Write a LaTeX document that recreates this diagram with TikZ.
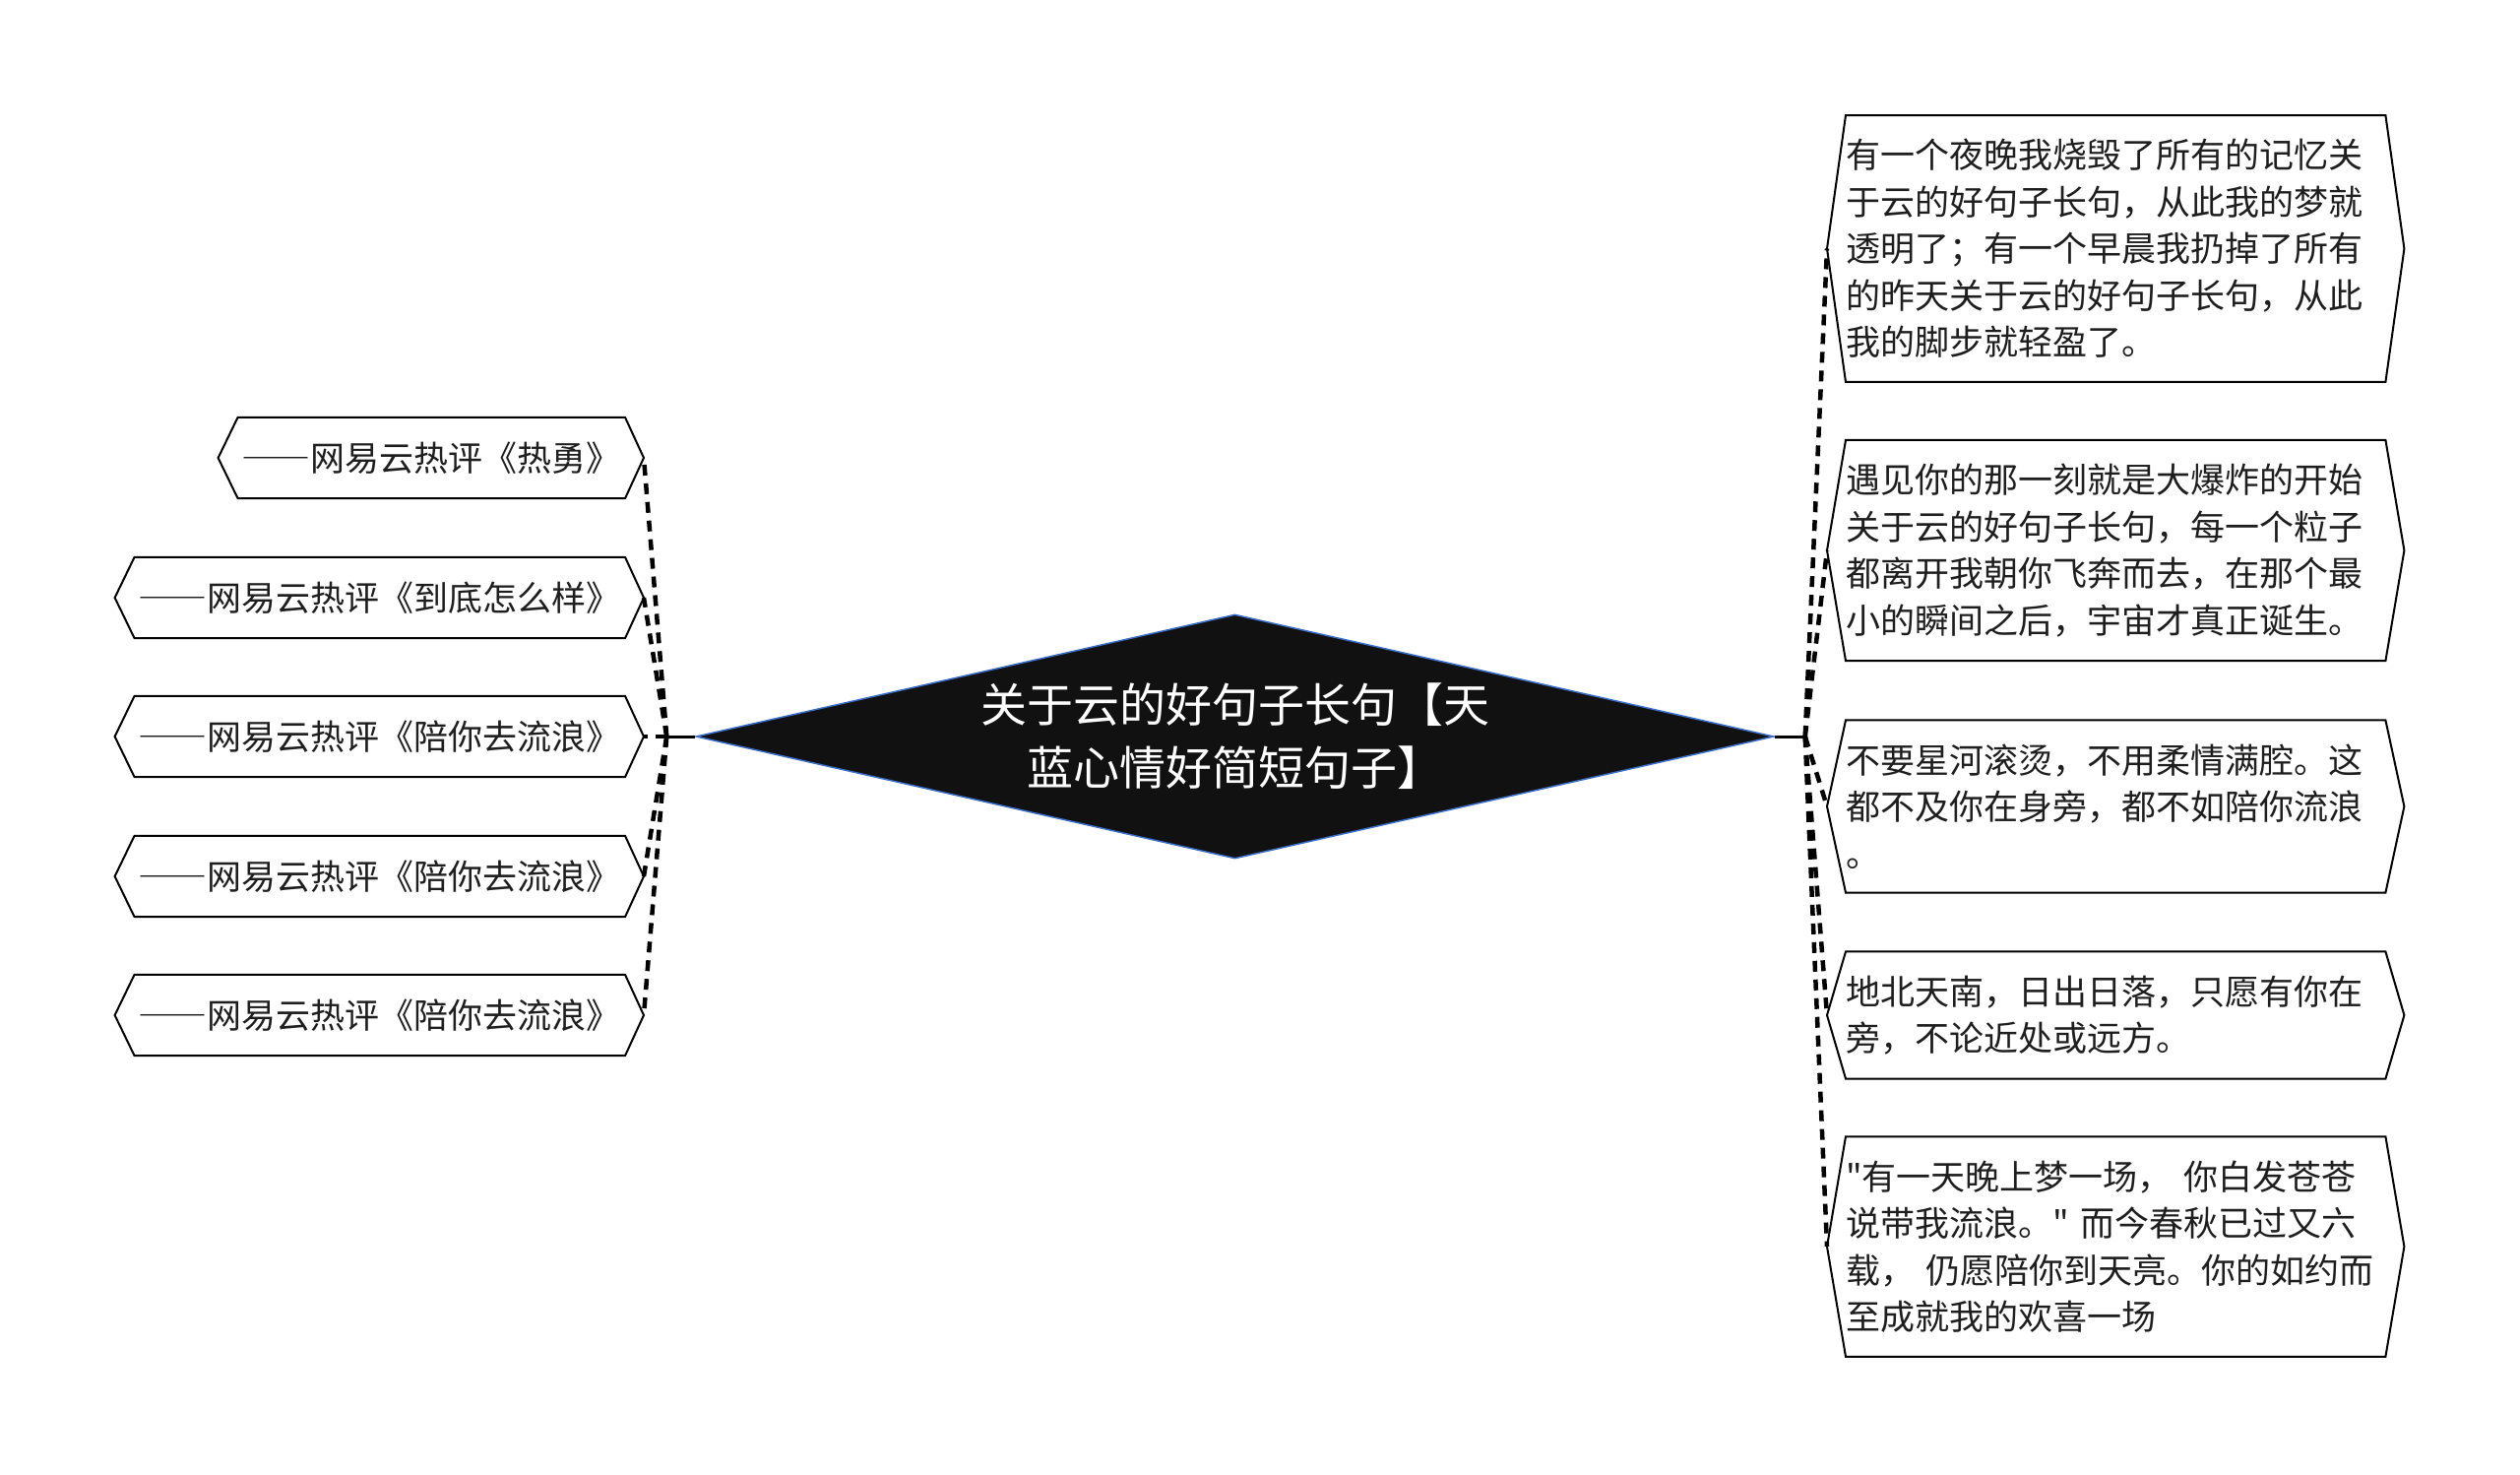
\documentclass[tikz,border=0pt]{standalone}
\usepackage{fontspec}
\setmainfont{Noto Sans CJK SC}[Ligatures=TeXOff]
\usetikzlibrary{shapes.geometric,calc}
\definecolor{txtc}{RGB}{30,30,30}
\definecolor{rootfill}{RGB}{17,17,17}
\definecolor{rootline}{RGB}{60,110,200}
\newcommand{\fwdash}{{\addfontfeature{RawFeature=+fwid}——}}
\begin{document}
\begin{tikzpicture}[x=1pt,y=-1pt,
  rootstyle/.style={shape=diamond, fill=rootfill, draw=rootline, line width=1.5pt,
    minimum width=1095pt, minimum height=248pt, inner sep=0pt, aspect=4.4,
    text=white, font=\fontsize{47}{64}\selectfont, align=center},
  leafstyle/.style={inner xsep=4pt, inner ysep=0pt, minimum height=82pt, text=txtc,
    font=\fontsize{35}{47.5}\selectfont},
  parastyle/.style={text width=548pt, align=left, inner xsep=0pt, inner ysep=24pt,
    text=txtc, font=\fontsize{35}{47.5}\selectfont},
  hexbox/.style={draw=black, line width=2pt, line join=miter},
  connstyle/.style={draw=black, line width=4.5pt, dash pattern=on 11pt off 8pt},
  trunkstyle/.style={draw=black, line width=3pt}]
\useasboundingbox (0,0) rectangle (2560,1497);

% root
\node[rootstyle] (root) at (1254.5,748) {关于云的好句子长句【天\\蓝心情好简短句子】};
\coordinate (jl) at ($(root.west)+(-29,0)$);
\coordinate (jr) at ($(root.east)+(31,0)$);

% left leaves
\node[leafstyle, anchor=east] (l1) at (635,465) {\fwdash 网易云热评《热勇》};
\node[leafstyle, anchor=east] (l2) at (635,607) {\fwdash 网易云热评《到底怎么样》};
\node[leafstyle, anchor=east] (l3) at (635,748) {\fwdash 网易云热评《陪你去流浪》};
\node[leafstyle, anchor=east] (l4) at (635,890) {\fwdash 网易云热评《陪你去流浪》};
\node[leafstyle, anchor=east] (l5) at (635,1031) {\fwdash 网易云热评《陪你去流浪》};
\foreach \n in {l1,l2,l3,l4,l5}{
  \draw[hexbox] (\n.north west) -- (\n.north east) -- ($(\n.east)+(19,0)$) -- (\n.south east)
    -- (\n.south west) -- ($(\n.west)+(-20,0)$) -- cycle;
  \coordinate (\n t) at ($(\n.east)+(19,0)$);
}

% right paragraphs
\node[parastyle, anchor=west] (r1) at (1875,252.5) {有一个夜晚我烧毁了所有的记忆关\\于云的好句子长句，从此我的梦就\\透明了；有一个早晨我扔掉了所有\\的昨天关于云的好句子长句，从此\\我的脚步就轻盈了。};
\node[parastyle, anchor=west] (r2) at (1875,559) {遇见你的那一刻就是大爆炸的开始\\关于云的好句子长句，每一个粒子\\都离开我朝你飞奔而去，在那个最\\小的瞬间之后，宇宙才真正诞生。};
\node[parastyle, anchor=west] (r3) at (1875,819) {不要星河滚烫，不用柔情满腔。这\\都不及你在身旁，都不如陪你流浪\\。};
\node[parastyle, anchor=west] (r4) at (1875,1031) {地北天南，日出日落，只愿有你在\\旁，不论近处或远方。};
\node[parastyle, anchor=west] (r5) at (1875,1266) {"有一天晚上梦一场， 你白发苍苍\\说带我流浪。" 而今春秋已过又六\\载， 仍愿陪你到天亮。你的如约而\\至成就我的欢喜一场};
\foreach \n in {r1,r2,r3,r4,r5}{
  \draw[hexbox] (\n.north west) -- (\n.north east) -- ($(\n.east)+(19,0)$) -- (\n.south east)
    -- (\n.south west) -- ($(\n.west)+(-19,0)$) -- cycle;
  \coordinate (\n t) at ($(\n.west)+(-19,0)$);
}

% connectors
\draw[trunkstyle] (root.west) -- (jl);
\draw[trunkstyle] (root.east) -- (jr);
\foreach \n in {l1,l2,l3,l4,l5}{ \draw[connstyle] (jl) -- (\n t); }
\foreach \n in {r1,r2,r3,r4,r5}{ \draw[connstyle] (jr) -- (\n t); }
\end{tikzpicture}
\end{document}
